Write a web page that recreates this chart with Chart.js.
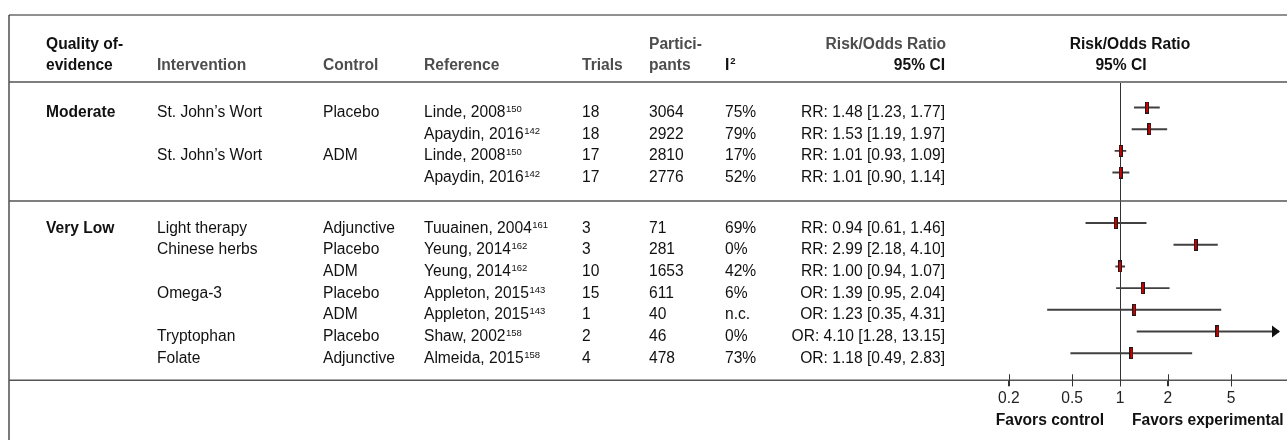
<!DOCTYPE html>
<html>
<head>
<meta charset="utf-8">
<script src="https://cdn.jsdelivr.net/npm/chart.js@4.4.0/dist/chart.umd.min.js"></script>
<style>
    html, body { margin: 0; padding: 0; background: #fff; }
    #wrap { position: relative; width: 1287px; height: 440px; }
</style>
</head>
<body>
<div id="wrap"><canvas id="forestChart"></canvas></div>
<script>
// values
var gQuality = ["Moderate", "Very Low"];
var gRowGroup = [0, 0, 0, 0, 1, 1, 1, 1, 1, 1, 1];
var gIntervention = ["St. John\u2019s Wort", "", "St. John\u2019s Wort", "", "Light therapy", "Chinese herbs", "", "Omega-3", "", "Tryptophan", "Folate"];
var gControl = ["Placebo", "", "ADM", "", "Adjunctive", "Placebo", "ADM", "Placebo", "ADM", "Placebo", "Adjunctive"];
var gReference = ["Linde, 2008", "Apaydin, 2016", "Linde, 2008", "Apaydin, 2016", "Tuuainen, 2004", "Yeung, 2014", "Yeung, 2014", "Appleton, 2015", "Appleton, 2015", "Shaw, 2002", "Almeida, 2015"];
var gRefNum = ["150", "142", "150", "142", "161", "162", "162", "143", "143", "158", "158"];
var gTrials = [18, 18, 17, 17, 3, 3, 10, 15, 1, 2, 4];
var gParticipants = [3064, 2922, 2810, 2776, 71, 281, 1653, 611, 40, 46, 478];
var gI2 = ["75%", "79%", "17%", "52%", "69%", "0%", "42%", "6%", "n.c.", "0%", "73%"];
var gMeasure = ["RR", "RR", "RR", "RR", "RR", "RR", "RR", "OR", "OR", "OR", "OR"];
var gEstimate = [1.48, 1.53, 1.01, 1.01, 0.94, 2.99, 1.00, 1.39, 1.23, 4.10, 1.18];
var gLower = [1.23, 1.19, 0.93, 0.90, 0.61, 2.18, 0.94, 0.95, 0.35, 1.28, 0.49];
var gUpper = [1.77, 1.97, 1.09, 1.14, 1.46, 4.10, 1.07, 2.04, 4.31, 13.15, 2.83];
var gTickValues = [0.2, 0.5, 1, 2, 5];

var FONT = '"Liberation Sans", Arial, Helvetica, sans-serif';
var SIZE = 15.6;
var GROUP_GAP = 1.33;   // extra empty space between quality groups (in rows)

// row position on the y scale: row index plus a gap per group
function rowPos(i) {
    return i + gRowGroup[i] * GROUP_GAP;
}

// build the datasets from the arrays
var vCiData = [];
var vEstData = [];
for (var i = 0; i < gEstimate.length; i++) {
    vCiData.push({ x: [gLower[i], gUpper[i]], y: rowPos(i) });
    vEstData.push({ x: gEstimate[i], y: rowPos(i) });
}

// point estimate marker: small red box with dark outline
var vMarker = document.createElement('canvas');
vMarker.width = 4;
vMarker.height = 12;
var mctx = vMarker.getContext('2d');
mctx.fillStyle = '#1a1a1a';
mctx.fillRect(0, 0, 4, 12);
mctx.fillStyle = '#d40000';
mctx.fillRect(1, 1, 2, 10);

function fmt2(v) {
    return v.toFixed(2);
}

function txt(ctx, s, x, y, bold, align, color, size) {
    ctx.font = (bold ? 'bold ' : '') + (size || SIZE) + 'px ' + FONT;
    ctx.textAlign = align || 'left';
    ctx.textBaseline = 'alphabetic';
    ctx.fillStyle = color || '#111';
    ctx.fillText(s, x, y);
    return ctx.measureText(s).width;
}

function hLine(ctx, x1, x2, y, w, color) {
    ctx.beginPath();
    ctx.lineWidth = w;
    ctx.strokeStyle = color;
    ctx.moveTo(x1, y);
    ctx.lineTo(x2, y);
    ctx.stroke();
}

var tablePlugin = {
    id: 'tablePlugin',
    beforeDatasetsDraw: function (chart) {
        var ctx = chart.ctx;
        var xs = chart.scales.x;
        var area = chart.chartArea;
        var x1 = Math.round(xs.getPixelForValue(1)) + 0.5;
        ctx.save();
        ctx.beginPath();
        ctx.lineWidth = 1;
        ctx.strokeStyle = '#333';
        ctx.moveTo(x1, area.top);
        ctx.lineTo(x1, area.bottom);
        ctx.stroke();
        ctx.restore();
    },
    afterDraw: function (chart) {
        var ctx = chart.ctx;
        var xs = chart.scales.x;
        var ys = chart.scales.y;
        var area = chart.chartArea;
        var W = chart.width;
        ctx.save();

        // frame
        hLine(ctx, 9, W, 15, 1.2, '#222');
        ctx.beginPath();
        ctx.lineWidth = 1.2;
        ctx.strokeStyle = '#222';
        ctx.moveTo(9, 15);
        ctx.lineTo(9, chart.height);
        ctx.stroke();
        hLine(ctx, 9, W, 82, 1.6, '#555');
        hLine(ctx, 9, W, 201, 1.6, '#555');
        hLine(ctx, 9, W, area.bottom, 1.6, '#555');

        // axis ticks crossing the bottom line
        for (var t = 0; t < xs.ticks.length; t++) {
            var tx = Math.round(xs.getPixelForValue(xs.ticks[t].value)) + 0.5;
            ctx.beginPath();
            ctx.lineWidth = 1;
            ctx.strokeStyle = '#333';
            ctx.moveTo(tx, area.bottom - 6);
            ctx.lineTo(tx, area.bottom + 6);
            ctx.stroke();
        }

        // header
        var gray = '#4d4d4d';
        txt(ctx, 'Quality of-', 46, 49, true, 'left', '#111');
        txt(ctx, 'evidence', 46, 70, true, 'left', '#111');
        txt(ctx, 'Intervention', 157, 70, true, 'left', gray);
        txt(ctx, 'Control', 323, 70, true, 'left', gray);
        txt(ctx, 'Reference', 424, 70, true, 'left', gray);
        txt(ctx, 'Trials', 582, 70, true, 'left', gray);
        txt(ctx, 'Partici-', 649, 49, true, 'left', gray);
        txt(ctx, 'pants', 649, 70, true, 'left', gray);
        var wI = txt(ctx, 'I', 725, 70, true, 'left', '#111');
        txt(ctx, '2', 725 + wI + 1, 64, true, 'left', '#111', 9.5);
        txt(ctx, 'Risk/Odds Ratio', 946, 49, true, 'right', gray);
        txt(ctx, '95% CI', 945, 70, true, 'right', '#111');
        txt(ctx, 'Risk/Odds Ratio', 1130, 49, true, 'center', '#111');
        txt(ctx, '95% CI', 1121, 70, true, 'center', '#111');

        // rows
        for (var i = 0; i < gEstimate.length; i++) {
            var yb = ys.getPixelForValue(rowPos(i)) + 9.5;
            if (i === 0 || gRowGroup[i] !== gRowGroup[i - 1]) {
                txt(ctx, gQuality[gRowGroup[i]], 46, yb, true);
            }
            if (gIntervention[i]) txt(ctx, gIntervention[i], 157, yb);
            if (gControl[i]) txt(ctx, gControl[i], 323, yb);
            var wRef = txt(ctx, gReference[i], 424, yb);
            txt(ctx, gRefNum[i], 424 + wRef + 0.5, yb - 5, false, 'left', '#111', 9.5);
            txt(ctx, String(gTrials[i]), 582, yb);
            txt(ctx, String(gParticipants[i]), 649, yb);
            txt(ctx, gI2[i], 725, yb);
            txt(ctx, gMeasure[i] + ': ' + fmt2(gEstimate[i]) + ' [' + fmt2(gLower[i]) + ', ' + fmt2(gUpper[i]) + ']', 945, yb, false, 'right');

            // arrow when the interval runs past the axis
            if (gUpper[i] > xs.max) {
                var ya = ys.getPixelForValue(rowPos(i));
                ctx.beginPath();
                ctx.fillStyle = '#111';
                ctx.moveTo(area.right + 1, ya);
                ctx.lineTo(area.right - 7, ya - 6);
                ctx.lineTo(area.right - 7, ya + 6);
                ctx.closePath();
                ctx.fill();
            }
        }

        // favors labels
        var xOne = xs.getPixelForValue(1);
        txt(ctx, 'Favors control', xOne - 16, 425, true, 'right', '#111');
        txt(ctx, 'Favors experimental', xOne + 12, 425, true, 'left', '#111');
        ctx.restore();
    }
};

var vCanvas = document.getElementById('forestChart').getContext('2d');
new Chart(vCanvas, {
    type: 'bar',
    data: {
        datasets: [
            {
                type: 'scatter',
                data: vEstData,
                pointStyle: vMarker,
                pointRadius: 5,
                order: 0
            },
            {
                type: 'bar',
                data: vCiData,
                backgroundColor: '#404040',
                borderWidth: 0,
                barThickness: 1.3,
                order: 1
            }
        ]
    },
    options: {
        indexAxis: 'y',
        responsive: true,
        maintainAspectRatio: false,
        animation: false,
        events: [],
        layout: { padding: { left: 961, right: 8, top: 83, bottom: 29 } },
        plugins: {
            legend: { display: false },
            tooltip: { enabled: false }
        },
        scales: {
            x: {
                type: 'logarithmic',
                position: 'bottom',
                min: 0.1,
                max: 10,
                border: { display: false },
                grid: { drawOnChartArea: false, drawTicks: true, tickLength: 6, color: '#333' },
                ticks: {
                    autoSkip: false,
                    maxRotation: 0,
                    padding: 3,
                    color: '#222',
                    font: { family: FONT, size: SIZE },
                    callback: function (v) { return String(v); }
                },
                afterBuildTicks: function (scale) {
                    scale.ticks = gTickValues.map(function (v) { return { value: v }; });
                }
            },
            y: {
                type: 'linear',
                reverse: true,
                min: -1.13,
                max: 12.58,
                offset: false,
                display: false
            }
        }
    },
    plugins: [tablePlugin]
});
</script>
</body>
</html>
